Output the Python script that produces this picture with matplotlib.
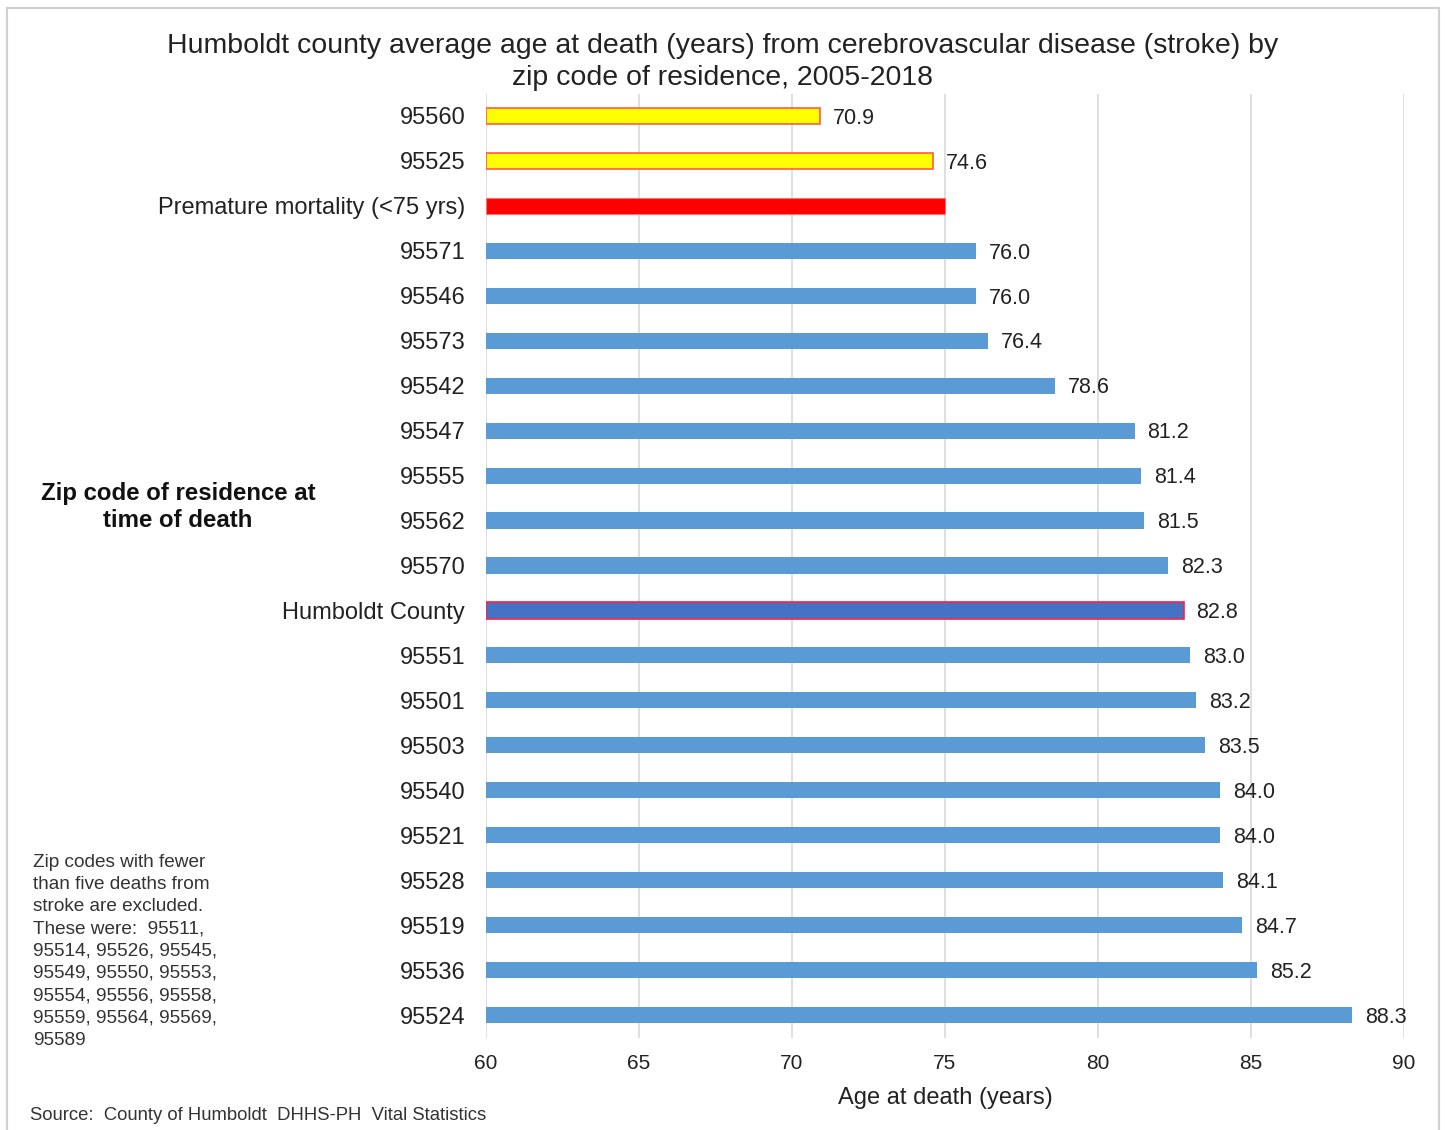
import matplotlib
matplotlib.use("Agg")
import matplotlib.pyplot as plt
from matplotlib.lines import Line2D

plt.rcParams['font.family'] = ['Liberation Sans', 'DejaVu Sans']

# Categories listed top to bottom
categories = ["95560", "95525", "Premature mortality (<75 yrs)", "95571", "95546",
              "95573", "95542", "95547", "95555", "95562", "95570", "Humboldt County",
              "95551", "95501", "95503", "95540", "95521", "95528", "95519", "95536",
              "95524"]
ages = [70.9, 74.6, 75.0, 76.0, 76.0, 76.4, 78.6, 81.2, 81.4, 81.5, 82.3, 82.8,
        83.0, 83.2, 83.5, 84.0, 84.0, 84.1, 84.7, 85.2, 88.3]
value_labels = ["70.9", "74.6", "", "76.0", "76.0", "76.4", "78.6", "81.2", "81.4",
                "81.5", "82.3", "82.8", "83.0", "83.2", "83.5", "84.0", "84.0",
                "84.1", "84.7", "85.2", "88.3"]
x_ticks = [60, 65, 70, 75, 80, 85, 90]

title = ("Humboldt county average age at death (years) from cerebrovascular disease (stroke) by\n"
         "zip code of residence, 2005-2018")
note = ("Zip codes with fewer\nthan five deaths from\nstroke are excluded.\n"
        "These were:  95511,\n95514, 95526, 95545,\n95549, 95550, 95553,\n"
        "95554, 95556, 95558,\n95559, 95564, 95569,\n95589")
source = "Source:  County of Humboldt  DHHS-PH  Vital Statistics"

BLUE = "#5B9BD5"
DARK_BLUE = "#4472C4"
YELLOW = "#FFFF00"
RED = "#FF0000"

def style_for(label):
    if label in ("95560", "95525"):
        return YELLOW, "#FF5A4A", 1.2
    if label.startswith("Premature"):
        return RED, "#FF7070", 0.8
    if label == "Humboldt County":
        return DARK_BLUE, "#FF2040", 1.2
    return BLUE, BLUE, 0.0

fig = plt.figure(figsize=(14.45, 11.3), dpi=100)
ax = fig.add_axes([486 / 1445, 1 - 1037.5 / 1130, (1404 - 486) / 1445, (1037.5 - 93.5) / 1130])

ypos = list(range(len(categories)))
for y, cat, val in zip(ypos, categories, ages):
    fc, ec, lw = style_for(cat)
    ax.barh(y, val - 60, left=60, height=0.36, color=fc, edgecolor=ec, linewidth=lw, zorder=3)

for y, val, lab in zip(ypos, ages, value_labels):
    if lab:
        ax.text(val + 0.42, y + 0.05, lab, va="center", ha="left", fontsize=15.5,
                color="#222222")

ax.set_xlim(60, 90)
ax.set_ylim(len(categories) - 0.5, -0.5)
ax.set_xticks(x_ticks)
ax.set_xticklabels([str(t) for t in x_ticks], fontsize=15, color="#222222")
ax.set_yticks(ypos)
ax.set_yticklabels(categories, fontsize=17, color="#222222")
ax.tick_params(axis="both", length=0)
ax.tick_params(axis="x", pad=12)
ax.tick_params(axis="y", pad=15)
ax.grid(axis="x", color="#D9D9D9", linewidth=1.2, zorder=0)
for s in ["top", "right", "bottom", "left"]:
    ax.spines[s].set_visible(False)
ax.set_xlabel("Age at death (years)", fontsize=17, color="#222222", labelpad=10)

fig.text(723 / 1445, 1 - 62 / 1130, title, ha="center", va="center", fontsize=20.5,
         color="#222222", linespacing=1.3)
fig.text(178 / 1445, 1 - 507 / 1130, "Zip code of residence at\ntime of death",
         ha="center", va="center", fontsize=17.3, fontweight="bold", color="#111111",
         linespacing=1.25)
fig.text(33 / 1445, 1 - 854 / 1130, note, ha="left", va="top", fontsize=13.7,
         color="#333333", linespacing=1.4)
fig.text(30 / 1445, 1 - 1115 / 1130, source, ha="left", va="center", fontsize=13.3,
         color="#333333")

# Light frame around the chart area
frame_kw = dict(color="#D0D0D0", linewidth=1.5, transform=fig.transFigure)
fig.add_artist(Line2D([7 / 1445, 7 / 1445], [0, 1 - 8 / 1130], **frame_kw))
fig.add_artist(Line2D([7 / 1445, 1439 / 1445], [1 - 8 / 1130, 1 - 8 / 1130], **frame_kw))
fig.add_artist(Line2D([1439 / 1445, 1439 / 1445], [0, 1 - 8 / 1130], **frame_kw))

fig.savefig("out.png", dpi=100)
